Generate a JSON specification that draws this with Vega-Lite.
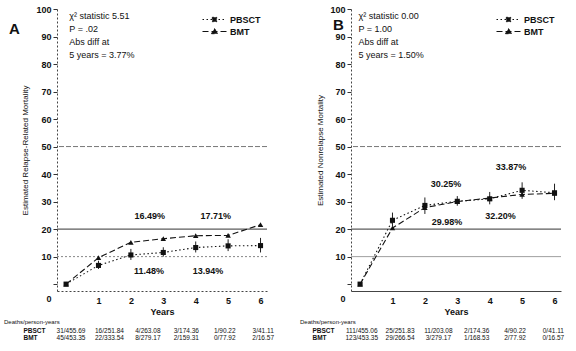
{
  "$schema": "https://vega.github.io/schema/vega-lite/v6.json",
  "padding": {"left": 4, "top": 5, "right": 5, "bottom": 3},
  "background": "white",
  "datasets": {
    "curves": [
      {"panel": "A", "group": "PBSCT", "year": 0, "value": 0, "lo": null, "hi": null},
      {"panel": "A", "group": "PBSCT", "year": 1, "value": 6.8, "lo": 5.5, "hi": 8.5},
      {"panel": "A", "group": "PBSCT", "year": 2, "value": 10.6, "lo": 8.8, "hi": 12.8},
      {"panel": "A", "group": "PBSCT", "year": 3, "value": 11.5, "lo": 10, "hi": 13.4},
      {"panel": "A", "group": "PBSCT", "year": 4, "value": 13.3, "lo": 11.5, "hi": 15.5},
      {"panel": "A", "group": "PBSCT", "year": 5, "value": 13.9, "lo": 12, "hi": 16.3},
      {"panel": "A", "group": "PBSCT", "year": 6, "value": 14.0, "lo": 11.5, "hi": 16.8},
      {"panel": "A", "group": "BMT", "year": 0, "value": 0, "lo": null, "hi": null},
      {"panel": "A", "group": "BMT", "year": 1, "value": 9.6, "lo": null, "hi": null},
      {"panel": "A", "group": "BMT", "year": 2, "value": 15.2, "lo": null, "hi": null},
      {"panel": "A", "group": "BMT", "year": 3, "value": 16.5, "lo": null, "hi": null},
      {"panel": "A", "group": "BMT", "year": 4, "value": 17.6, "lo": null, "hi": null},
      {"panel": "A", "group": "BMT", "year": 5, "value": 17.7, "lo": null, "hi": null},
      {"panel": "A", "group": "BMT", "year": 6, "value": 21.6, "lo": null, "hi": null},
      {"panel": "B", "group": "PBSCT", "year": 0, "value": 0, "lo": null, "hi": null},
      {"panel": "B", "group": "PBSCT", "year": 1, "value": 23.2, "lo": 21, "hi": 26},
      {"panel": "B", "group": "PBSCT", "year": 2, "value": 28.6, "lo": 25.5, "hi": 31.5},
      {"panel": "B", "group": "PBSCT", "year": 3, "value": 30.1, "lo": 28.5, "hi": 32},
      {"panel": "B", "group": "PBSCT", "year": 4, "value": 31.0, "lo": 29, "hi": 33.5},
      {"panel": "B", "group": "PBSCT", "year": 5, "value": 34.1, "lo": 31, "hi": 37},
      {"panel": "B", "group": "PBSCT", "year": 6, "value": 33.2, "lo": 30.5, "hi": 36.5},
      {"panel": "B", "group": "BMT", "year": 0, "value": 0, "lo": null, "hi": null},
      {"panel": "B", "group": "BMT", "year": 1, "value": 20.4, "lo": null, "hi": null},
      {"panel": "B", "group": "BMT", "year": 2, "value": 27.8, "lo": null, "hi": null},
      {"panel": "B", "group": "BMT", "year": 3, "value": 30.0, "lo": null, "hi": null},
      {"panel": "B", "group": "BMT", "year": 4, "value": 31.3, "lo": null, "hi": null},
      {"panel": "B", "group": "BMT", "year": 5, "value": 32.6, "lo": null, "hi": null},
      {"panel": "B", "group": "BMT", "year": 6, "value": 33.0, "lo": null, "hi": null}
    ],
    "notes": [
      {"panel": "A", "year": 2.58, "value": 24.8, "label": "16.49%"},
      {"panel": "A", "year": 4.62, "value": 24.8, "label": "17.71%"},
      {"panel": "A", "year": 2.56, "value": 4.6, "label": "11.48%"},
      {"panel": "A", "year": 4.38, "value": 4.6, "label": "13.94%"},
      {"panel": "B", "year": 2.65, "value": 36.3, "label": "30.25%"},
      {"panel": "B", "year": 4.66, "value": 42.4, "label": "33.87%"},
      {"panel": "B", "year": 2.68, "value": 22.5, "label": "29.98%"},
      {"panel": "B", "year": 4.33, "value": 24.6, "label": "32.20%"}
    ],
    "stats": [
      {"panel": "A", "text": "χ² statistic 5.51\nP = .02\nAbs diff at\n5 years = 3.77%"},
      {"panel": "B", "text": "χ² statistic 0.00\nP = 1.00\nAbs diff at\n5 years = 1.50%"}
    ],
    "table": [
      {"panel": "A", "group": "PBSCT", "col": 0, "text": "31/455.69"},
      {"panel": "A", "group": "PBSCT", "col": 1, "text": "16/251.84"},
      {"panel": "A", "group": "PBSCT", "col": 2, "text": "4/263.08"},
      {"panel": "A", "group": "PBSCT", "col": 3, "text": "3/174.36"},
      {"panel": "A", "group": "PBSCT", "col": 4, "text": "1/90.22"},
      {"panel": "A", "group": "PBSCT", "col": 5, "text": "3/41.11"},
      {"panel": "A", "group": "BMT", "col": 0, "text": "45/453.35"},
      {"panel": "A", "group": "BMT", "col": 1, "text": "22/333.54"},
      {"panel": "A", "group": "BMT", "col": 2, "text": "8/279.17"},
      {"panel": "A", "group": "BMT", "col": 3, "text": "2/159.31"},
      {"panel": "A", "group": "BMT", "col": 4, "text": "0/77.92"},
      {"panel": "A", "group": "BMT", "col": 5, "text": "2/16.57"},
      {"panel": "B", "group": "PBSCT", "col": 0, "text": "111/455.06"},
      {"panel": "B", "group": "PBSCT", "col": 1, "text": "25/251.83"},
      {"panel": "B", "group": "PBSCT", "col": 2, "text": "11/203.08"},
      {"panel": "B", "group": "PBSCT", "col": 3, "text": "2/174.36"},
      {"panel": "B", "group": "PBSCT", "col": 4, "text": "4/90.22"},
      {"panel": "B", "group": "PBSCT", "col": 5, "text": "0/41.11"},
      {"panel": "B", "group": "BMT", "col": 0, "text": "123/453.35"},
      {"panel": "B", "group": "BMT", "col": 1, "text": "29/266.54"},
      {"panel": "B", "group": "BMT", "col": 2, "text": "3/279.17"},
      {"panel": "B", "group": "BMT", "col": 3, "text": "1/168.53"},
      {"panel": "B", "group": "BMT", "col": 4, "text": "2/77.92"},
      {"panel": "B", "group": "BMT", "col": 5, "text": "0/16.57"}
    ]
  },
  "hconcat": [
    {
      "spacing": 3,
      "resolve": {"scale": {"strokeDash": "independent"}, "legend": {"strokeDash": "independent"}},
      "vconcat": [
        {
          "width": 210,
          "height": 282,
          "title": {"text": "A", "anchor": "start", "frame": "group", "dx": -48, "dy": 47, "offset": 0, "fontSize": 15, "fontWeight": "bold", "baseline": "bottom"},
          "layer": [
            {"data": {"values": [{}]}, "mark": {"type": "rule", "color": "#555", "strokeDash": [5, 2], "strokeWidth": 0.8},
              "encoding": {"y": {"datum": 50, "type": "quantitative", "scale": {"domain": [-2.5, 100], "nice": false},
                "axis": {"values": [0, 10, 20, 30, 40, 50, 60, 70, 80, 90, 100], "tickCount": 11, "title": "Estimated Relapse-Related Mortality", "titleFontSize": 8, "titleFontWeight": "normal", "titlePadding": 6, "labelFontSize": 9, "labelFontWeight": "bold", "tickSize": 4, "labelPadding": 2, "domainDash": [2, 2], "domainColor": "#444", "labelOverlap": false,
                  "labelOffset": {"condition": {"test": "datum.value === 0", "value": 14}, "value": 0}}}}},
            {"data": {"values": [{}]}, "mark": {"type": "rule", "color": "#333", "strokeWidth": 1}, "encoding": {"y": {"datum": 20, "type": "quantitative"}}},
            {"data": {"values": [{}]}, "mark": {"type": "rule", "color": "#666", "strokeDash": [2, 2], "strokeWidth": 0.8}, "encoding": {"y": {"datum": 10, "type": "quantitative"}}},
            {
              "data": {"name": "curves"},
              "transform": [{"filter": "datum.panel === 'A' && datum.lo != null"}],
              "mark": {"type": "rule", "color": "#222", "strokeWidth": 1},
              "encoding": {
                "x": {"field": "year", "type": "quantitative", "scale": {"domain": [-0.28, 6.2], "nice": false},
                  "axis": {"values": [1, 2, 3, 4, 5, 6], "format": "d", "title": "Years", "ticks": false, "labelPadding": 5, "labelFontSize": 9, "labelFontWeight": "bold", "titleFontSize": 9, "titleFontWeight": "bold", "titlePadding": 2, "domainDash": [2, 2], "domainColor": "#444"}},
                "y": {"field": "lo", "type": "quantitative"},
                "y2": {"field": "hi"}
              }
            },
            {
              "data": {"name": "curves"},
              "transform": [{"filter": "datum.panel === 'A'"}],
              "mark": {"type": "line", "color": "#111", "strokeWidth": 1.1},
              "encoding": {
                "x": {"field": "year", "type": "quantitative"},
                "y": {"field": "value", "type": "quantitative"},
                "strokeDash": {"field": "group", "type": "nominal",
                  "scale": {"domain": ["PBSCT", "BMT"], "range": [[1.5, 2.5], [6, 3]]},
                  "legend": {"title": null, "orient": "top-right", "offset": 6, "padding": 0, "rowPadding": 1, "labelFontSize": 9, "labelFontWeight": "bold", "labelOffset": 11, "symbolSize": 64,
                    "symbolType": {"expr": "datum.value === 'BMT' ? 'M-3,0H3M0,-0.75L0.75,0.55L-0.75,0.55Z' : 'M-3,0H3M-0.55,-0.55H0.55V0.55H-0.55Z'"},
                    "symbolFillColor": "#111", "symbolStrokeColor": "#111", "symbolStrokeWidth": 1}}
              }
            },
            {
              "data": {"name": "curves"},
              "transform": [{"filter": "datum.panel === 'A' && datum.group === 'PBSCT'"}],
              "mark": {"type": "point", "shape": "square", "filled": true, "color": "#111", "size": 26, "opacity": 1},
              "encoding": {"x": {"field": "year", "type": "quantitative"}, "y": {"field": "value", "type": "quantitative"}}
            },
            {
              "data": {"name": "curves"},
              "transform": [{"filter": "datum.panel === 'A' && datum.group === 'BMT'"}],
              "mark": {"type": "point", "shape": "triangle-up", "filled": true, "color": "#111", "size": 30, "opacity": 1},
              "encoding": {"x": {"field": "year", "type": "quantitative"}, "y": {"field": "value", "type": "quantitative"}}
            },
            {
              "data": {"name": "notes"},
              "transform": [{"filter": "datum.panel === 'A'"}],
              "mark": {"type": "text", "fontSize": 9, "fontWeight": "bold", "color": "#111"},
              "encoding": {"x": {"field": "year", "type": "quantitative"}, "y": {"field": "value", "type": "quantitative"}, "text": {"field": "label"}}
            },
            {
              "data": {"name": "stats"},
              "transform": [{"filter": "datum.panel === 'A'"}],
              "mark": {"type": "text", "fontSize": 9, "align": "left", "baseline": "top", "lineBreak": "\n", "lineHeight": 13, "color": "#111"},
              "encoding": {"x": {"datum": 0.1, "type": "quantitative"}, "y": {"datum": 99, "type": "quantitative"}, "text": {"field": "text"}}
            }
          ]
        },
        {
          "width": 210,
          "height": 14,
          "title": {"text": "Deaths/person-years", "anchor": "start", "frame": "group", "dx": -53, "offset": 2, "fontSize": 6, "fontWeight": "normal"},
          "data": {"name": "table"},
          "transform": [{"filter": "datum.panel === 'A'"}],
          "mark": {"type": "text", "fontSize": 6.5, "align": "center", "color": "#111"},
          "encoding": {
            "x": {"field": "col", "type": "quantitative", "scale": {"domain": [-0.365, 5.1], "nice": false}, "axis": null},
            "y": {"field": "group", "type": "nominal", "scale": {"type": "point", "domain": ["PBSCT", "BMT"], "padding": 0.5},
              "axis": {"title": null, "domain": false, "ticks": false, "labelAlign": "left", "labelPadding": 34, "labelFontSize": 6.5, "labelFontWeight": "bold"}},
            "text": {"field": "text"}
          }
        }
      ]
    },
    {
      "spacing": 3,
      "resolve": {"scale": {"strokeDash": "independent"}, "legend": {"strokeDash": "independent"}},
      "vconcat": [
        {
          "width": 210,
          "height": 282,
          "title": {"text": "B", "anchor": "start", "frame": "group", "dx": -18, "dy": 43, "offset": 0, "fontSize": 15, "fontWeight": "bold", "baseline": "bottom"},
          "layer": [
            {"data": {"values": [{}]}, "mark": {"type": "rule", "color": "#555", "strokeDash": [5, 2], "strokeWidth": 0.8},
              "encoding": {"y": {"datum": 50, "type": "quantitative", "scale": {"domain": [-2.5, 100], "nice": false},
                "axis": {"values": [0, 10, 20, 30, 40, 50, 60, 70, 80, 90, 100], "tickCount": 11, "title": "Estimated Nonrelapse Mortality", "titleFontSize": 8, "titleFontWeight": "normal", "titlePadding": 5, "labelFontSize": 9, "labelFontWeight": "bold", "tickSize": 4, "labelPadding": 2, "domainDash": [2, 2], "domainColor": "#444", "labelOverlap": false,
                  "labelOffset": {"condition": {"test": "datum.value === 0", "value": 14}, "value": 0}}}}},
            {"data": {"values": [{}]}, "mark": {"type": "rule", "color": "#333", "strokeWidth": 1}, "encoding": {"y": {"datum": 20, "type": "quantitative"}}},
            {"data": {"values": [{}]}, "mark": {"type": "rule", "color": "#777", "strokeWidth": 0.7}, "encoding": {"y": {"datum": 10, "type": "quantitative"}}},
            {
              "data": {"name": "curves"},
              "transform": [{"filter": "datum.panel === 'B' && datum.lo != null"}],
              "mark": {"type": "rule", "color": "#222", "strokeWidth": 1},
              "encoding": {
                "x": {"field": "year", "type": "quantitative", "scale": {"domain": [-0.28, 6.2], "nice": false},
                  "axis": {"values": [1, 2, 3, 4, 5, 6], "format": "d", "title": "Years", "ticks": false, "labelPadding": 5, "labelFontSize": 9, "labelFontWeight": "bold", "titleFontSize": 9, "titleFontWeight": "bold", "titlePadding": 2, "domainColor": "#444"}},
                "y": {"field": "lo", "type": "quantitative"},
                "y2": {"field": "hi"}
              }
            },
            {
              "data": {"name": "curves"},
              "transform": [{"filter": "datum.panel === 'B'"}],
              "mark": {"type": "line", "color": "#111", "strokeWidth": 1.1},
              "encoding": {
                "x": {"field": "year", "type": "quantitative"},
                "y": {"field": "value", "type": "quantitative"},
                "strokeDash": {"field": "group", "type": "nominal",
                  "scale": {"domain": ["PBSCT", "BMT"], "range": [[1.5, 2.5], [6, 3]]},
                  "legend": {"title": null, "orient": "top-right", "offset": 6, "padding": 0, "rowPadding": 1, "labelFontSize": 9, "labelFontWeight": "bold", "labelOffset": 11, "symbolSize": 64,
                    "symbolType": {"expr": "datum.value === 'BMT' ? 'M-3,0H3M0,-0.75L0.75,0.55L-0.75,0.55Z' : 'M-3,0H3M-0.55,-0.55H0.55V0.55H-0.55Z'"},
                    "symbolFillColor": "#111", "symbolStrokeColor": "#111", "symbolStrokeWidth": 1}}
              }
            },
            {
              "data": {"name": "curves"},
              "transform": [{"filter": "datum.panel === 'B' && datum.group === 'PBSCT'"}],
              "mark": {"type": "point", "shape": "square", "filled": true, "color": "#111", "size": 26, "opacity": 1},
              "encoding": {"x": {"field": "year", "type": "quantitative"}, "y": {"field": "value", "type": "quantitative"}}
            },
            {
              "data": {"name": "curves"},
              "transform": [{"filter": "datum.panel === 'B' && datum.group === 'BMT'"}],
              "mark": {"type": "point", "shape": "triangle-up", "filled": true, "color": "#111", "size": 30, "opacity": 1},
              "encoding": {"x": {"field": "year", "type": "quantitative"}, "y": {"field": "value", "type": "quantitative"}}
            },
            {
              "data": {"name": "notes"},
              "transform": [{"filter": "datum.panel === 'B'"}],
              "mark": {"type": "text", "fontSize": 9, "fontWeight": "bold", "color": "#111"},
              "encoding": {"x": {"field": "year", "type": "quantitative"}, "y": {"field": "value", "type": "quantitative"}, "text": {"field": "label"}}
            },
            {
              "data": {"name": "stats"},
              "transform": [{"filter": "datum.panel === 'B'"}],
              "mark": {"type": "text", "fontSize": 9, "align": "left", "baseline": "top", "lineBreak": "\n", "lineHeight": 13, "color": "#111"},
              "encoding": {"x": {"datum": -0.05, "type": "quantitative"}, "y": {"datum": 99, "type": "quantitative"}, "text": {"field": "text"}}
            }
          ]
        },
        {
          "width": 210,
          "height": 14,
          "title": {"text": "Deaths/person-years", "anchor": "start", "frame": "group", "dx": -51, "offset": 2, "fontSize": 6, "fontWeight": "normal"},
          "data": {"name": "table"},
          "transform": [{"filter": "datum.panel === 'B'"}],
          "mark": {"type": "text", "fontSize": 6.5, "align": "center", "color": "#111"},
          "encoding": {
            "x": {"field": "col", "type": "quantitative", "scale": {"domain": [-0.28, 5.2], "nice": false}, "axis": null},
            "y": {"field": "group", "type": "nominal", "scale": {"type": "point", "domain": ["PBSCT", "BMT"], "padding": 0.5},
              "axis": {"title": null, "domain": false, "ticks": false, "labelAlign": "left", "labelPadding": 39, "labelFontSize": 6.5, "labelFontWeight": "bold"}},
            "text": {"field": "text"}
          }
        }
      ]
    }
  ],
  "spacing": 25,
  "resolve": {"scale": {"strokeDash": "independent"}, "legend": {"strokeDash": "independent"}},
  "config": {
    "font": "Liberation Sans",
    "view": {"stroke": null},
    "axis": {"labelColor": "#111", "titleColor": "#111", "tickColor": "#333", "grid": false},
    "legend": {"labelColor": "#111"},
    "title": {"color": "#111"}
  }
}
